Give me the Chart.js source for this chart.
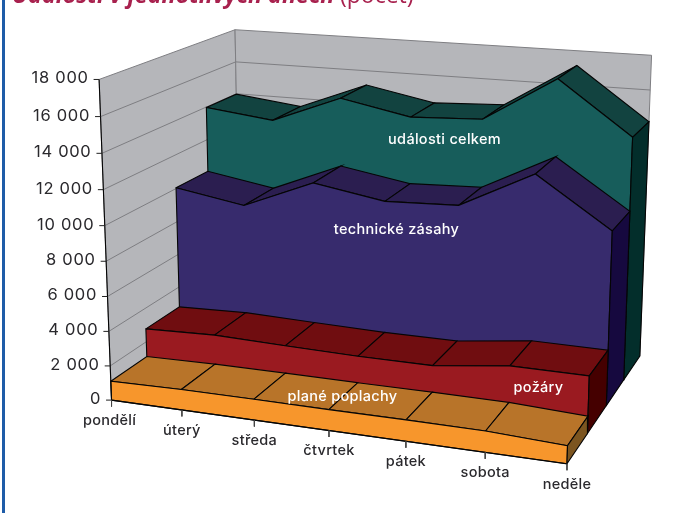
<!DOCTYPE html>
<html lang="cs"><head><meta charset="utf-8">
<style>html,body{margin:0;padding:0;background:#fff;overflow:hidden}canvas{display:block}</style>
<script src="https://cdn.jsdelivr.net/npm/chart.js@4"></script>
</head><body><canvas id="c" width="675" height="513"></canvas>
<script>
const categories = ['pondělí','úterý','středa','čtvrtek','pátek','sobota','neděle'];
const planePoplachy = [1108,1184,1192,1178,1190,1171,973];
const pozary = [2776,2910,2795,2709,2706,3233,3218];
const technickeZasahy = [10048,9376,11088,10402,10565,12707,9937];
const udalostiCelkem = [13971,13508,15132,14336,14530,17140,14155];
const valueTicks = [0,2000,4000,6000,8000,10000,12000,14000,16000,18000];
const valueTickLabels = ['0','2 000','4 000','6 000','8 000','10 000','12 000','14 000','16 000','18 000'];
const valueMax = 18000;
const seriesNames = ['plané poplachy','požáry','technické zásahy','události celkem'];

// camera: 3×4 perspective matrix (category, value, depth series) → canvas scale units
const CAM = [406.46492,-16.926932,166.490095,111.543802, 23.626602,-324.23442,-42.84724,400.106629, -0.086373,-0.045212,0.156142];
function project(c,v,d){
  const X=c/(categories.length-1),Y=v/valueMax,Z=d/4,W=CAM[8]*X+CAM[9]*Y+CAM[10]*Z+1;
  return {x:(CAM[0]*X+CAM[1]*Y+CAM[2]*Z+CAM[3])/W,y:(CAM[4]*X+CAM[5]*Y+CAM[6]*Z+CAM[7])/W};
}
const styles = [
  {front:'#F7962C',top:'#B87429',side:'#7C5520'},
  {front:'#9A1A20',top:'#700D10',side:'#450000'},
  {front:'#372B6D',top:'#2B1E50',side:'#16093F'},
  {front:'#175D5B',top:'#124340',side:'#032E2B'}
];
const WALL='#B5B6BA', GRID='#7E7E82', EDGE='#050505';
const sets=[];
function poly(pts,fill,stroke,w){
  sets.push({data:[...pts,pts[0]],showLine:true,fill:'shape',backgroundColor:fill,borderColor:stroke,borderWidth:w??1,pointRadius:0,tension:0,borderJoinStyle:'miter',clip:false});
}
function line(pts,color,w){
  sets.push({data:pts,showLine:true,fill:false,borderColor:color,borderWidth:w??1,pointRadius:0,tension:0,clip:false});
}
const last=categories.length-1;
// walls and gridlines
poly([project(0,0,0),project(0,valueMax,0),project(0,valueMax,4),project(0,0,4)],WALL,GRID);
poly([project(0,0,4),project(0,valueMax,4),project(last,valueMax,4),project(last,0,4)],WALL,GRID);
valueTicks.slice(1,-1).forEach(v=>{
  line([project(0,v,0),project(0,v,4),project(last,v,4)],GRID);
});
// series, back to front
[udalostiCelkem,technickeZasahy,pozary,planePoplachy].forEach((vals,k)=>{
  const d=3-k, st=styles[d];
  for(let i=0;i<last;i++){
    poly([project(i,vals[i],d),project(i+1,vals[i+1],d),project(i+1,vals[i+1],d+1),project(i,vals[i],d+1)],st.top,EDGE,1.1);
  }
  poly([project(0,0,d),...vals.map((v,i)=>project(i,v,d)),project(last,0,d)],st.front,EDGE,1.1);
  poly([project(last,0,d),project(last,vals[last],d),project(last,vals[last],d+1),project(last,0,d+1)],st.side,EDGE,1.1);
});
// axes
line([project(0,0,0),project(0,valueMax,0)],EDGE,1.1);
line([project(0,0,0),project(last,0,0)],EDGE,1.1);
valueTicks.forEach(v=>{const p=project(0,v,0);line([p,{x:p.x-5.5,y:p.y}],'#222');});
categories.forEach((_,i)=>{const p=project(i,0,0);line([p,{x:p.x,y:p.y+6.5}],'#444');});
// page rule at the left
line([{x:3.5,y:0},{x:3.5,y:513}],'#1E5CA8',3);
sets.forEach((s,i)=>{s.order=sets.length-i;});

const textFont='Inter, Lato, sans-serif';
const textPlugin={id:'chartText',afterDraw(chart){
  const g=chart.ctx,xs=chart.scales.x,ys=chart.scales.y;
  const at=(p)=>({x:xs.getPixelForValue(p.x),y:ys.getPixelForValue(p.y)});
  g.save();
  g.textBaseline='middle';
  g.fillStyle='#2A292D';
  g.textAlign='right';
  g.font='400 16.5px '+textFont;
  g.letterSpacing='0.7px';
  valueTicks.forEach((v,i)=>{const p=at(project(0,v,0));g.fillText(valueTickLabels[i],p.x-10.5,p.y-1);});
  g.textAlign='center';
  g.font='500 14.5px '+textFont;
  g.letterSpacing='0.3px';
  categories.forEach((c,i)=>{const p=at(project(i,0,0));g.fillText(c,p.x-(i==0?2:0),p.y+20.5);});
  g.fillStyle='#FFFFFF';
  g.fillText(seriesNames[3],444.5,139.5);
  g.fillText(seriesNames[2],396.5,229.5);
  g.fillText(seriesNames[0],342.5,397);
  g.fillText(seriesNames[1],538.5,388);
  g.letterSpacing='0px';
  g.fillStyle='#A8214E';
  g.textAlign='left';
  g.textBaseline='alphabetic';
  g.font='italic 700 23.3px "Open Sans", sans-serif';
  g.fillText('Události v jednotlivých dnech',12,3);
  g.font='400 23px "Open Sans", sans-serif';
  g.fillText('(počet)',340,3);
  g.restore();
}};
new Chart(document.getElementById('c'),{
  type:'scatter',
  data:{datasets:sets},
  plugins:[textPlugin],
  options:{responsive:false,animation:false,parsing:true,
    layout:{padding:0},
    plugins:{legend:{display:false},tooltip:{enabled:false},title:{display:false}},
    scales:{x:{type:'linear',min:0,max:675,display:false},y:{type:'linear',min:0,max:513,reverse:true,display:false}}
  }
});
</script></body></html>
